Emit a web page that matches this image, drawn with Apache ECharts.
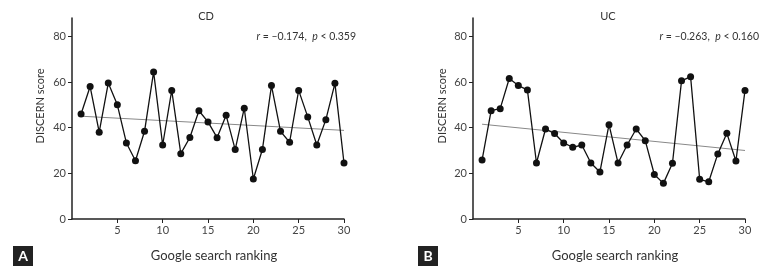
<!DOCTYPE html>
<html>
<head>
<meta charset="utf-8">
<script src="https://cdn.jsdelivr.net/npm/echarts@6/dist/echarts.min.js"></script>
<style>
html, body { margin: 0; padding: 0; background: #fff; }
#chart { width: 771px; height: 273px; }
</style>
</head>
<body>
<div id="chart"></div>
<script>
// 排名 1..30
var ranking = [];
for (var i = 1; i <= 30; i++) ranking.push(i);

// DISCERN 分数
var cdScores = [46, 58, 38, 59.5, 50, 33.3, 25.5, 38.4, 64.4, 32.4,
                56.3, 28.6, 35.7, 47.4, 42.5, 35.6, 45.4, 30.4, 48.5, 17.5,
                30.4, 58.4, 38.4, 33.6, 56.3, 44.7, 32.4, 43.5, 59.4, 24.5];
var ucScores = [25.8, 47.4, 48.3, 61.5, 58.4, 56.5, 24.5, 39.4, 37.4, 33.3,
                31.4, 32.4, 24.5, 20.6, 41.3, 24.5, 32.4, 39.4, 34.3, 19.5,
                15.6, 24.4, 60.5, 62.3, 17.4, 16.3, 28.5, 37.5, 25.4, 56.3];

// 趋势线端点
var cdTrend = [[1, 45.0], [30, 38.8]];
var ucTrend = [[1, 41.5], [30, 30.0]];

var yTicks = [0, 20, 40, 60, 80];
var xTicks = [5, 10, 15, 20, 25, 30];

var font = 'Lato';

function pairs(vals) {
    return ranking.map(function (r, i) { return [r, vals[i]]; });
}

function xAxisOf(idx) {
    return {
        gridIndex: idx, type: 'value', min: 0, max: 30,
        axisLine: { lineStyle: { color: '#222', width: 1.5 } },
        axisTick: { show: true, length: 4, customValues: xTicks, lineStyle: { color: '#222' } },
        axisLabel: { customValues: xTicks, color: '#444', fontSize: 11, fontFamily: font, margin: 6 },
        splitLine: { show: false }
    };
}
function yAxisOf(idx) {
    return {
        gridIndex: idx, type: 'value', min: 0, max: 88,
        axisLine: { show: true, lineStyle: { color: '#222', width: 1.5 } },
        axisTick: { show: true, length: 4, customValues: yTicks, lineStyle: { color: '#222' } },
        axisLabel: { customValues: yTicks, color: '#444', fontSize: 11, fontFamily: font, margin: 6 },
        splitLine: { show: false }
    };
}
function scoreSeries(idx, vals) {
    return {
        type: 'line', xAxisIndex: idx, yAxisIndex: idx, data: pairs(vals),
        symbol: 'circle', symbolSize: 7, animation: false,
        lineStyle: { color: '#111', width: 1.3 },
        itemStyle: { color: '#111' }, z: 3
    };
}
function trendSeries(idx, pts) {
    return {
        type: 'line', xAxisIndex: idx, yAxisIndex: idx, data: pts,
        symbol: 'none', animation: false,
        lineStyle: { color: '#888', width: 1 }, z: 2
    };
}
function label(x, y, text, size, opts) {
    var st = { text: text, fontSize: size, fontFamily: font, fill: '#333', align: 'center', verticalAlign: 'middle' };
    for (var k in (opts || {})) st[k] = opts[k];
    return { type: 'text', x: x, y: y, style: st };
}
function stat(x, y, r, p) {
    return {
        type: 'text', x: x, y: y,
        style: {
            text: '{i|r} = \u2013' + r + ',  {i|p} < ' + p,
            fontSize: 10.5, fontFamily: font, fill: '#333', align: 'right', verticalAlign: 'middle',
            rich: { i: { fontStyle: 'italic', fontSize: 10.5, fontFamily: font, fill: '#333' } }
        }
    };
}
function badge(x, y, letter) {
    return {
        type: 'group', x: x, y: y,
        children: [
            { type: 'rect', shape: { x: 0, y: 0, width: 20, height: 20 }, style: { fill: '#222' } },
            { type: 'text', x: 10, y: 10, style: { text: letter, fill: '#fff', fontSize: 14, fontWeight: 'bold', fontFamily: font, align: 'center', verticalAlign: 'middle' } }
        ]
    };
}

var myChart = echarts.init(document.getElementById('chart'));
var option = {
    animation: false,
    grid: [
        { left: 72, top: 18, width: 272, height: 201 },
        { left: 473, top: 18, width: 272, height: 201 }
    ],
    xAxis: [xAxisOf(0), xAxisOf(1)],
    yAxis: [yAxisOf(0), yAxisOf(1)],
    series: [
        trendSeries(0, cdTrend), scoreSeries(0, cdScores),
        trendSeries(1, ucTrend), scoreSeries(1, ucScores)
    ],
    graphic: [
        label(206, 16, 'CD', 11),
        label(608, 16, 'UC', 11),
        stat(356, 37, '0.174', '0.359'),
        stat(759, 37, '0.263', '0.160'),
        label(40, 106, 'DISCERN score', 11, { rotation: 0 }),
        label(214, 256, 'Google search ranking', 13),
        label(615, 256, 'Google search ranking', 13),
        badge(13, 246, 'A'),
        badge(418, 246, 'B')
    ]
};
// 纵轴名称旋转
option.graphic[4] = { type: 'text', x: 40, y: 106, rotation: Math.PI / 2,
    style: { text: 'DISCERN score', fontSize: 11, fontFamily: font, fill: '#333', align: 'center', verticalAlign: 'middle' } };
option.graphic.push({ type: 'text', x: 442, y: 106, rotation: Math.PI / 2,
    style: { text: 'DISCERN score', fontSize: 11, fontFamily: font, fill: '#333', align: 'center', verticalAlign: 'middle' } });

myChart.setOption(option);
</script>
</body>
</html>
